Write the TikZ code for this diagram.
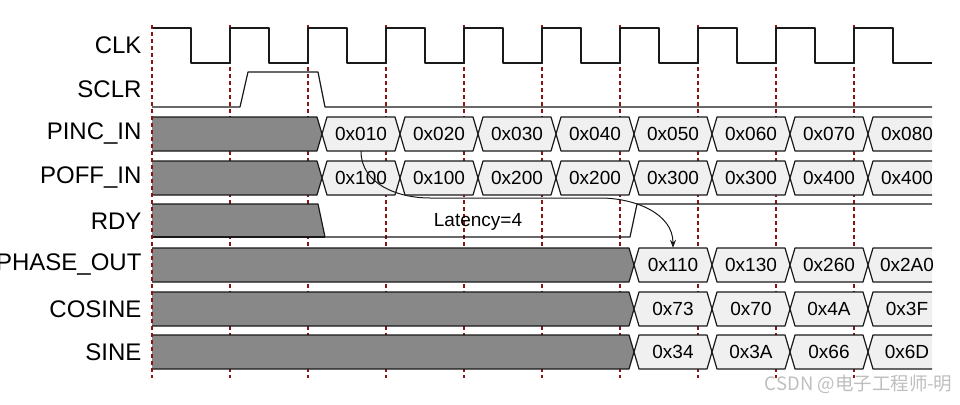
\documentclass[tikz,border=0pt]{standalone}
\usepackage{fontspec}
\setmainfont{Liberation Sans}
\newfontfamily\cjkfont{Noto Sans CJK SC}
\usetikzlibrary{arrows.meta}
\definecolor{tdGrid}{RGB}{140,20,20}
\definecolor{tdUnknown}{RGB}{136,136,136}
\definecolor{tdBus}{RGB}{240,240,240}
\definecolor{tdLine}{RGB}{25,25,25}
\definecolor{tdMark}{RGB}{190,190,190}

\begin{document}
\begin{tikzpicture}[x=1pt,y=-1pt,
  wave/.style={draw=tdLine,line width=1.2pt,line join=round},
  grid/.style={tdGrid,line width=1.2pt,dash pattern=on 4pt off 3pt},
  sig/.style={anchor=east,font=\fontsize{24}{26}\selectfont},
  val/.style={font=\fontsize{19}{21}\selectfont,minimum width=68pt,minimum height=34pt,inner sep=0pt}]
\useasboundingbox (0,0) rectangle (960,404);
\foreach \x in {230,308,...,854}
  \draw[grid] (\x,25)--(\x,378);
\begin{scope}
\clip (0,0) rectangle (932,404);
% clock and clear
\draw[wave] (152,28) \foreach \x in {152,230,...,854} {-- (\x,28) -- (\x+39,28) -- (\x+39,63) -- (\x+78,63)};
\draw[wave] (152,107) -- (240,107) -- (248,72) -- (318,72) -- (325,107) -- (932,107);
% buses
\foreach \m/\c/\nm/\vals in {134/322/pinc/{0x010,0x020,0x030,0x040,0x050,0x060,0x070,0x080},
    178/322/poff/{0x100,0x100,0x200,0x200,0x300,0x300,0x400,0x400},
    265/634/phase/{0x110,0x130,0x260,0x2A0},
    309/634/cos/{0x73,0x70,0x4A,0x3F},
    352/634/sine/{0x34,0x3A,0x66,0x6D}} {
  \filldraw[wave,fill=tdUnknown] (152,\m-17) -- (\c-5,\m-17) -- (\c,\m) -- (\c-5,\m+17) -- (152,\m+17);
  \foreach \v [count=\i from 0] in \vals {
    \filldraw[wave,fill=tdBus] (\c+78*\i,\m) -- ++(5,-17) -- ++(68,0) -- ++(5,17) -- ++(-5,17) -- ++(-68,0) -- cycle;
    \node[val] (\nm\i) at (\c+78*\i+39,\m) {\v};
  }
}
% ready
\fill[tdUnknown] (152,204) -- (318,204) -- (325,237) -- (152,237) -- cycle;
\draw[wave] (152,204) -- (318,204) -- (325,237) -- (630,237) -- (637,204) -- (932,204);
\draw[wave] (152,237) -- (325,237);
\end{scope}
\draw[grid] (152,25) -- (152,378);
\foreach \y/\t/\n in {45/CLK/clk,89/SCLR/sclr,134/PINC\_IN/pinc,178/POFF\_IN/poff,221/RDY/rdy,265/PHASE\_OUT/phase,309/COSINE/cos,352/SINE/sine}
  \node[sig] (l\n) at (145,\y) {\t};
\node[font=\fontsize{19}{21}\selectfont] (lat) at (478,222) {Latency=4};
\coordinate (latA) at (430,198);
\coordinate (latB) at (600,198);
\draw[tdLine,line width=1pt,-{Stealth[length=8pt,width=6pt]}] (pinc0.south) to[out=-90,in=180] (latA) -- (latB) to[out=0,in=90] (phase0.north);
\node[anchor=east,text=tdMark,font=\cjkfont\fontsize{18.5}{20}\selectfont] (mark) at (956,384) {CSDN @电子工程师-明};
\end{tikzpicture}
\end{document}
